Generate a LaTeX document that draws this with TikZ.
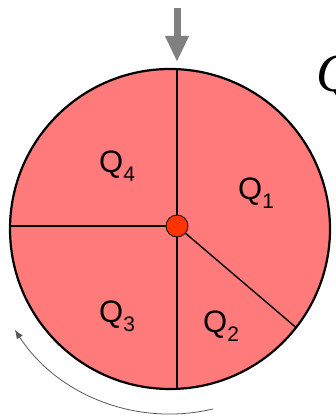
\documentclass[tikz,border=0pt]{standalone}
\usepackage{fontspec}
\setmainfont{Liberation Sans}
\newfontfamily\qserif{Liberation Serif}
\usetikzlibrary{arrows.meta}
\definecolor{sector}{RGB}{255,122,122}
\definecolor{hubred}{RGB}{255,51,0}
\newcommand{\qlab}[1]{Q\raisebox{-9pt}{\fontsize{21}{21}\selectfont #1}}

\begin{document}
\begin{tikzpicture}[x=1pt,y=1pt,
 quad/.style={anchor=base west,inner sep=0pt,font=\fontsize{31}{31}\selectfont},
 divider/.style={line width=1.4pt},
 feed/.style={-{Triangle[length=26pt,width=22pt]},line width=7pt,gray},
 turn/.style={-{Latex[length=9pt,width=7pt]},line width=0.8pt,black!65}]
\useasboundingbox (0,0) rectangle (335,419);
\coordinate (c) at (170,190);
% Disc with three radial cuts, clipped to the rim.
\begin{scope}
\clip (c) circle (160);
\fill[sector] (c) circle (160);
\draw[divider] (177,0)--(177,419);
\draw[divider] (177,193)--(0,193);
\draw[divider] (177,193)--([shift={(-38.5:200)}]c);
\end{scope}
\draw[line width=2.2pt] (c) circle (160);
\node[circle,fill=hubred,draw,line width=0.8pt,minimum size=22pt,inner sep=0pt] (hub) at (177,193) {};
\node[quad] (q4) at (99,246) {\qlab{4}};
\node[quad] (q1) at (238,219) {\qlab{1}};
\node[quad] (q3) at (99,96) {\qlab{3}};
\node[quad] (q2) at (203,86) {\qlab{2}};
% Feed arrow and sense of rotation.
\coordinate (feedtop) at (177,411);
\coordinate (feedtip) at (177,357);
\draw[feed] (feedtop)--(feedtip);
\draw[turn] ([shift={(-76.5:185)}]c) arc[start angle=-76.5,end angle=-147,radius=185];
\node[anchor=base west,inner sep=0pt,font=\qserif\itshape\fontsize{54}{54}\selectfont] (qcut) at (316,327) {Q};
\end{tikzpicture}
\end{document}
